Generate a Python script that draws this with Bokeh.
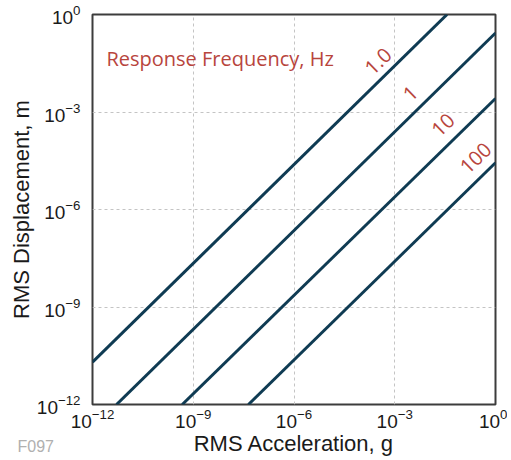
from bokeh.plotting import figure
from bokeh.models import Range1d, FixedTicker, Label, Title
from bokeh.embed import file_html
from bokeh.resources import INLINE
from bokeh.core.properties import value

# ---- data ----
freq_labels = ["1.0", "1", "10", "100"]
accel_start = [1e-12, 5.2e-12, 4.7e-10, 4.4e-8]
disp_start = [2.0e-11, 1e-12, 1e-12, 1e-12]
accel_end = [0.036, 1.0, 1.0, 1.0]
disp_end = [1.0, 0.27, 2.6e-3, 2.75e-5]
label_accel = [3.2e-4, 2.95e-3, 2.75e-2, 0.257]
label_disp = [3.6e-2, 3.7e-3, 4.0e-4, 3.8e-5]
tick_values = [1e-12, 1e-9, 1e-6, 1e-3, 1.0]

LINE_COLOR = "#0f3b53"
RED = "#b8453d"
SANS = "Liberation Sans"

p = figure(width=507, height=458, x_axis_type="log", y_axis_type="log",
           x_range=Range1d(1e-12, 1.0), y_range=Range1d(1e-12, 1.0),
           output_backend="svg", toolbar_location=None,
           min_border_left=92, min_border_right=12, min_border_top=14,
           min_border_bottom=54)

p.outline_line_color = "#3c3c3c"
p.outline_line_width = 2
p.background_fill_color = "white"
p.border_fill_color = "white"

for ax in (p.xaxis[0], p.yaxis[0]):
    ax.ticker = FixedTicker(ticks=tick_values, minor_ticks=[])
    ax.axis_line_color = None
    ax.major_tick_line_color = None
    ax.minor_tick_line_color = None
    ax.major_tick_out = 0
    ax.major_tick_in = 0
    ax.major_label_text_font = SANS
    ax.major_label_text_font_size = "19px"
    ax.major_label_text_color = "#1a1a1a"
    ax.axis_label_text_font = SANS
    ax.axis_label_text_font_size = "22px"
    ax.axis_label_text_font_style = "normal"
    ax.axis_label_text_color = "#1a1a1a"

p.xaxis.axis_label = "RMS Acceleration, g"
p.yaxis.axis_label = "RMS Displacement, m"
p.xaxis.major_label_standoff = 4
p.yaxis.major_label_standoff = 12
p.xaxis.axis_label_standoff = 0
p.yaxis.axis_label_standoff = 0

for g in (p.xgrid[0], p.ygrid[0]):
    g.grid_line_color = "#c4c4c4"
    g.grid_line_dash = "3 3"
    g.grid_line_width = 1

for i in range(len(freq_labels)):
    p.line([accel_start[i], accel_end[i]], [disp_start[i], disp_end[i]],
           line_color=LINE_COLOR, line_width=3)

p.text(x=label_accel, y=label_disp, text=freq_labels, angle=0.77,
       text_align="center", text_baseline="middle",
       text_font=value("Open Sans"), text_font_size="20px", text_color=RED)

p.add_layout(Label(x=2.6e-12, y=4.4e-2, text="Response Frequency, Hz",
                   text_font="Open Sans", text_font_size="20px",
                   text_color=RED, text_align="left",
                   text_baseline="alphabetic"))

p.add_layout(Title(text="F097", align="left", offset=-75, standoff=-42,
                   vertical_align="top", text_font=SANS,
                   text_font_size="16px", text_font_style="normal",
                   text_color="#b0b0b0"), "below")

open("out.html", "w").write(file_html(p, INLINE))
